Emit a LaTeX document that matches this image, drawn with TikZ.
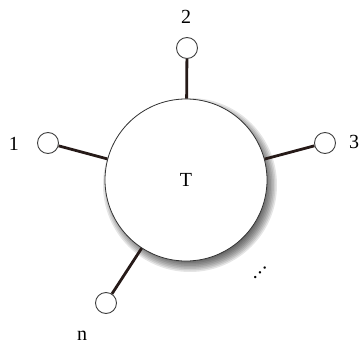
\documentclass[tikz,border=0pt]{standalone}
\usepackage{fontspec}
\setmainfont{Liberation Serif}
\definecolor{leg}{RGB}{38,26,24}

\begin{document}
\begin{tikzpicture}[x=1pt, y=-1pt, font=\fontsize{20}{22}\selectfont,
  tens/.style={circle, draw=black!80, line width=0.8pt, fill=white, minimum size=162pt, inner sep=0pt},
  port/.style={circle, draw=black!75, line width=0.9pt, fill=white, minimum size=21pt, inner sep=0pt},
  leg/.style={draw=leg, line width=2.8pt},
  lab/.style={inner sep=0pt}]
\useasboundingbox (0,0) rectangle (359,351);
% soft shadow under the central tensor
\coordinate (c) at (186,180);
\foreach \r in {72,73.5,...,87}
  \fill[black, opacity=0.1] ([shift={(4,5)}]c) circle (\r);
\node[tens] (T) at (c) {T};
% legs
\node[port] (p1) at (48,143)  {};
\node[port] (p2) at (187,48)  {};
\node[port] (p3) at (325,143) {};
\node[port] (pn) at (106,303) {};
\draw[leg] (p1) -- (T);
\draw[leg] (p2) -- (T);
\draw[leg] (p3) -- (T);
\draw[leg] (pn) -- (T);
% labels
\node[lab] (l1) at (14,144)  {1};
\node[lab] (l2) at (186,17)  {2};
\node[lab] (l3) at (354,142) {3};
\node[lab] (ln) at (82,336)  {n};
\node[lab, rotate=45] (dots) at (260,273) {\textellipsis};
\end{tikzpicture}
\end{document}
